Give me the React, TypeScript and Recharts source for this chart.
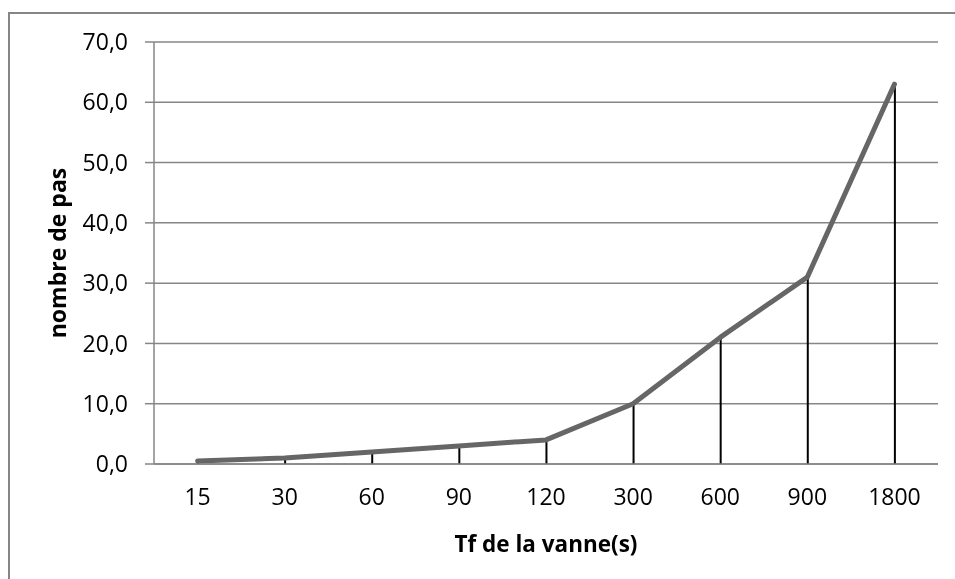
import React from "react"
import { Bar, ComposedChart, CartesianGrid, Line, XAxis, YAxis } from "recharts"

const temps = ["15", "30", "60", "90", "120", "300", "600", "900", "1800"]
const nombrePas = [0.5, 1, 2, 3, 4, 10, 21, 31, 63]
const yTicks = [0, 10, 20, 30, 40, 50, 60, 70]

const data = temps.map((t, i) => ({ tf: t, pas: nombrePas[i] }))

const FONT = "'Open Sans', 'Noto Sans', sans-serif"
const AXIS_GREY = "#868686"

export default function App() {
  return (
    <div
      style={{
        position: "fixed",
        left: 8,
        top: 12,
        width: 947,
        height: 567,
        borderLeft: `2px solid ${AXIS_GREY}`,
        borderTop: `2px solid ${AXIS_GREY}`,
        boxSizing: "border-box",
        fontFamily: FONT,
        overflow: "hidden",
      }}
    >
      <div style={{ position: "absolute", left: -2, top: -6 }}>
        <ComposedChart
          width={947}
          height={571}
          data={data}
          margin={{ top: 34, right: 17, bottom: 25, left: 46 }}
          barCategoryGap={0}
        >
          <CartesianGrid horizontal vertical={false} stroke={AXIS_GREY} strokeWidth={1.5} />
          <XAxis
            dataKey="tf"
            height={90}
            stroke={AXIS_GREY}
            strokeWidth={1.5}
            tickLine={false}
            tickSize={0}
            tickMargin={25}
            tick={{ fill: "#000", fontSize: 23, fontFamily: FONT }}
            label={{
              value: "Tf de la vanne(s)",
              position: "insideBottom",
              offset: 2,
              style: { fill: "#000", fontSize: 22.5, fontWeight: 700, fontFamily: FONT },
            }}
          />
          <YAxis
            width={100}
            domain={[0, 70]}
            ticks={yTicks}
            interval={0}
            stroke={AXIS_GREY}
            strokeWidth={1.5}
            tickSize={9}
            tickMargin={17}
            tickFormatter={(v: number) => v.toFixed(1).replace(".", ",")}
            tick={{ fill: "#000", fontSize: 23, fontFamily: FONT }}
            label={{
              value: "nombre de pas",
              angle: -90,
              position: "insideLeft",
              offset: 4,
              style: { fill: "#000", fontSize: 23, fontWeight: 700, fontFamily: FONT, textAnchor: "middle" },
            }}
          />
          {/* drop lines from each point down to the axis */}
          <Bar dataKey="pas" fill="#000" barSize={2} isAnimationActive={false} />
          <Line
            type="linear"
            dataKey="pas"
            stroke="#666666"
            strokeWidth={5}
            strokeLinecap="round"
            strokeLinejoin="round"
            dot={false}
            activeDot={false}
            isAnimationActive={false}
          />
        </ComposedChart>
      </div>
    </div>
  )
}
